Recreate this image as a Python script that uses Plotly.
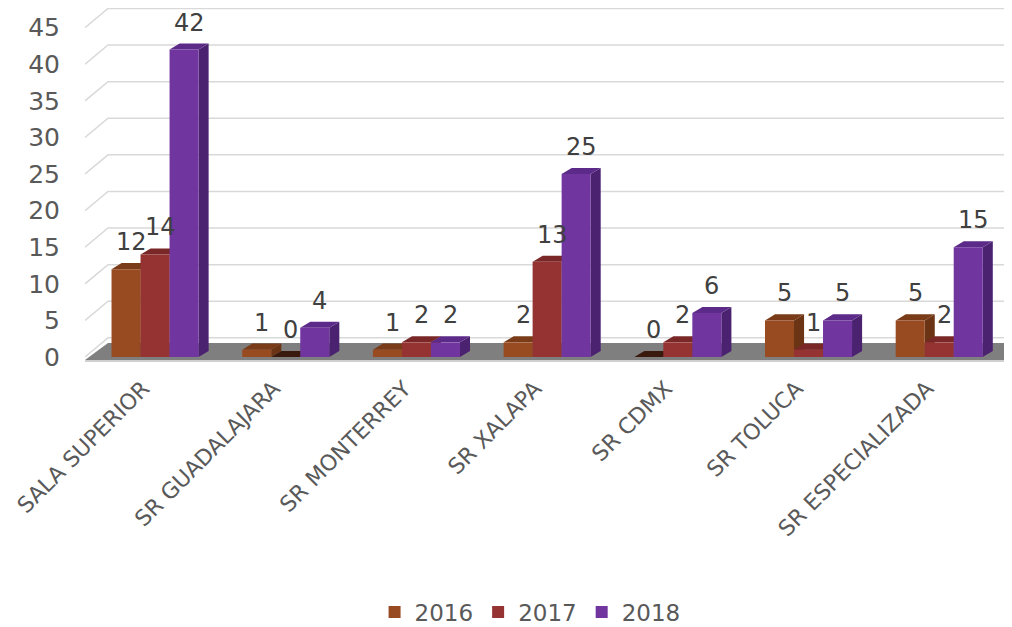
import plotly.graph_objects as go

categories = ["SALA SUPERIOR", "SR GUADALAJARA", "SR MONTERREY", "SR XALAPA",
              "SR CDMX", "SR TOLUCA", "SR ESPECIALIZADA"]
years = ["2016", "2017", "2018"]
v2016 = [12, 1, 1, 2, 0, 5, 5]
v2017 = [14, 0, 2, 13, 2, 1, 2]
v2018 = [42, 4, 2, 25, 6, 5, 15]
y_ticks = [0, 5, 10, 15, 20, 25, 30, 35, 40, 45]

# styles (front, side, top)
styles = {
    "2016": ("#984B21", "#6B3414", "#7A3C18"),
    "2017": ("#953333", "#6A2222", "#7A2727"),
    "2018": ("#7135A0", "#4B2270", "#5C2A88"),
}
series = [("2016", v2016), ("2017", v2017), ("2018", v2018)]

W = 0.222      # bar width (category units)
DX = 0.077     # bar depth, x
DY = 0.83      # bar depth, y
GDX = 0.176    # wall depth, x
GDY = 2.62     # wall depth, y
X0, X1 = -0.536, 6.557
Y0, Y1 = -1.093, 47.68
offsets = [-W, 0.0, W]

FONT = "DejaVu Sans"
TXT = "#595959"

fig = go.Figure()
shapes = []
annotations = []

# 3D gridlines
for v in y_ticks:
    shapes.append(dict(type="path", layer="between", xref="x", yref="y",
                       path=f"M {X0},{v} L {X0+GDX},{v+GDY} L {X1},{v+GDY}",
                       line=dict(color="#d9d9d9", width=1.5)))

# floor
shapes.append(dict(type="path", layer="between", xref="x", yref="y",
                   path=f"M {X0},-0.41 L {X0+GDX},1.92 L {X1},1.92 L {X1-0.01},-0.41 Z",
                   fillcolor="#7f7f7f", line=dict(color="#7f7f7f", width=0)))
shapes.append(dict(type="line", layer="between", xref="x", yref="y",
                   x0=X0, x1=X1, y0=-0.55, y1=-0.55,
                   line=dict(color="#d0d0d0", width=2)))

for i in range(len(categories)):
    for (yr, vals), off in zip(series, offsets):
        front, side, top = styles[yr]
        v = vals[i]
        xl = i + off - W / 2
        xr = i + off + W / 2
        # side face
        if v > 0:
            shapes.append(dict(type="path", layer="between", xref="x", yref="y",
                               path=f"M {xr},{0} L {xr+DX},{DY} L {xr+DX},{v+DY} L {xr},{v} Z",
                               fillcolor=side, line=dict(width=0)))
        # top face
        tcol = top if v > 0 else "#3a1a0c"
        shapes.append(dict(type="path", layer="between", xref="x", yref="y",
                           path=f"M {xl},{v} L {xl+DX},{v+DY} L {xr+DX},{v+DY} L {xr},{v} Z",
                           fillcolor=tcol, line=dict(width=0)))
        annotations.append(dict(x=i + off + DX / 2, y=v + DY, xref="x", yref="y",
                                text=str(v), showarrow=False, yanchor="bottom", yshift=5,
                                font=dict(family=FONT, size=24, color="#404040")))

for (yr, vals), off in zip(series, offsets):
    fig.add_trace(go.Bar(
        name=yr,
        x=[i + off for i in range(len(categories))],
        y=vals,
        width=W,
        marker=dict(color=styles[yr][0], line=dict(width=0)),
        hoverinfo="skip",
    ))

fig.update_layout(
    width=1004, height=619,
    margin=dict(l=77, r=0, t=0, b=262),
    plot_bgcolor="white", paper_bgcolor="white",
    barmode="overlay",
    shapes=shapes,
    annotations=annotations,
    showlegend=True,
    legend=dict(orientation="h", xref="container", yref="container",
                x=0.52, xanchor="center", y=0.024, yanchor="middle",
                font=dict(family=FONT, size=23, color=TXT), itemwidth=30,
                traceorder="normal"),
    font=dict(family=FONT, color=TXT),
)
fig.update_xaxes(range=[X0, X1], tickvals=list(range(len(categories))), ticktext=categories,
                 tickangle=-45, showgrid=False, zeroline=False, showline=False,
                 ticks="outside", ticklen=1, tickcolor="rgba(0,0,0,0)",
                 ticklabelshift=-12, automargin=False, ticklabeloverflow="allow",
                 tickfont=dict(family=FONT, size=22, color=TXT))
fig.update_yaxes(range=[Y0, Y1], tickvals=y_ticks, showgrid=False, zeroline=False,
                 showline=False, ticks="outside", ticklen=19, tickcolor="rgba(0,0,0,0)",
                 automargin=False,
                 tickfont=dict(family=FONT, size=25, color=TXT))

fig.write_html("out.html")
